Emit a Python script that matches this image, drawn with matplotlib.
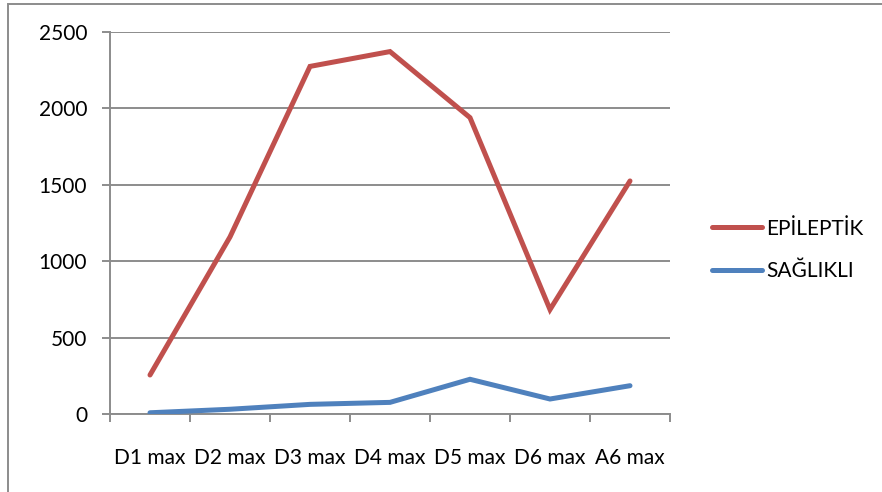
import matplotlib
matplotlib.use("Agg")
import matplotlib.pyplot as plt
from matplotlib.patches import Rectangle
from matplotlib.lines import Line2D

categories = ["D1 max", "D2 max", "D3 max", "D4 max", "D5 max", "D6 max", "A6 max"]
epileptik = [257, 1160, 2275, 2372, 1940, 685, 1526]
saglikli = [10, 33, 65, 78, 229, 100, 187]
yticks = [0, 500, 1000, 1500, 2000, 2500]

RED = "#C0504D"
BLUE = "#4F81BD"
GRID = "#8C8C8C"
FS = 15

plt.rcParams["font.family"] = ["Lato", "DejaVu Sans"]

fig = plt.figure(figsize=(8.82, 4.92), dpi=100)
ax = fig.add_axes([110 / 882, 1 - 414.3 / 492, 560 / 882, 382.3 / 492])

x = list(range(len(categories)))
ax.plot(x, epileptik, color=RED, lw=3.6, solid_capstyle="round", solid_joinstyle="miter", zorder=3)
ax.plot(x, saglikli, color=BLUE, lw=3.6, solid_capstyle="round", solid_joinstyle="miter", zorder=3)

ax.set_xlim(-0.5, len(categories) - 0.5)
ax.set_ylim(0, 2500)
ax.set_yticks(yticks)
ax.set_yticklabels([str(v) for v in yticks])
ax.yaxis.grid(True, color=GRID, lw=1.4)
ax.set_axisbelow(True)

ax.set_xticks(x)
ax.set_xticklabels(categories)
ax.set_xticks([i - 0.5 for i in range(len(categories) + 1)], minor=True)
ax.tick_params(axis="x", which="major", length=0, pad=24, labelsize=FS)
ax.tick_params(axis="x", which="minor", length=6, width=1.4, color=GRID)
ax.tick_params(axis="y", length=6, width=1.4, color=GRID, pad=10.5, labelsize=FS)

for side in ("top", "right"):
    ax.spines[side].set_visible(False)
for side in ("left", "bottom"):
    ax.spines[side].set_color(GRID)
    ax.spines[side].set_linewidth(1.4)

handles = [Line2D([], [], color=RED, lw=3.6, solid_capstyle="round"),
           Line2D([], [], color=BLUE, lw=3.6, solid_capstyle="round")]
fig.legend(handles, ["EPİLEPTİK", "SAĞLIKLI"], loc="center left",
           bbox_to_anchor=(712 / 882, 1 - 250 / 492), frameon=False,
           fontsize=FS, handlelength=2.4, handletextpad=0.2, labelspacing=1.1,
           borderaxespad=0, borderpad=0)

# chart area border
fig.patches.append(Rectangle((8 / 882, -0.5), 2, 0.5 + (1 - 4 / 492), transform=fig.transFigure,
                             fill=False, edgecolor=GRID, lw=1.4))

fig.savefig("out.png", dpi=100)
